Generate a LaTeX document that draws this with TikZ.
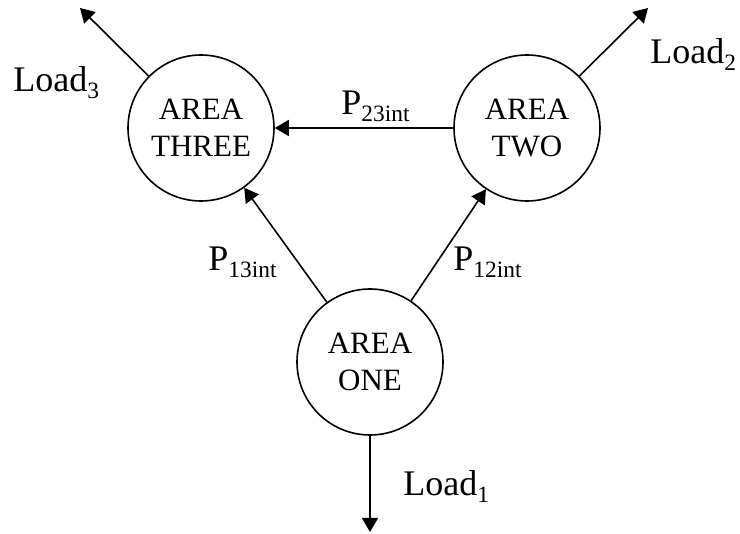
\documentclass[tikz,border=0pt]{standalone}
\usepackage{fontspec}
\setmainfont{Liberation Serif}
\usetikzlibrary{arrows.meta}
\tikzstyle{area} = [circle, draw=black, line width=0.8pt, minimum size=73pt, inner sep=0pt, align=center, font=\fontsize{15.5}{18.5}\selectfont]
\tikzstyle{lbl} = [inner sep=0pt, anchor=base west, font=\fontsize{18}{20}\selectfont]
\tikzstyle{arrow} = [line width=0.8pt, -{Triangle[length=7pt,width=8pt]}]
\newcommand{\lsub}[1]{\raisebox{-3.5pt}{\fontsize{11.7}{12}\selectfont #1}}

\begin{document}
\begin{tikzpicture}[x=0.5pt, y=-0.5pt]
                \useasboundingbox (0,0) rectangle (740,534);
                \node (three) [area] at (201,128) {AREA\\THREE};
                \node (two) [area] at (527,128) {AREA\\TWO};
                \node (one) [area] at (370,362) {AREA\\ONE};
                \coordinate (l3) at (80,8);
                \coordinate (l2) at (648,8);
                \coordinate (l1) at (370,532);

                \draw [arrow] (two) -- (three);
                \draw [arrow] (one) -- (three);
                \draw [arrow] (one) -- (two);
                \draw [arrow] (three) -- (l3);
                \draw [arrow] (two) -- (l2);
                \draw [arrow] (one) -- (l1);

                \node (p23) [lbl] at (341,115) {P\lsub{23int}};
                \node (p13) [lbl] at (208,271) {P\lsub{13int}};
                \node (p12) [lbl] at (453,271) {P\lsub{12int}};
                \node (load3) [lbl] at (13,92) {Load\lsub{3}};
                \node (load2) [lbl] at (650,64) {Load\lsub{2}};
                \node (load1) [lbl] at (403,495) {Load\lsub{1}};
            \end{tikzpicture}
\end{document}
